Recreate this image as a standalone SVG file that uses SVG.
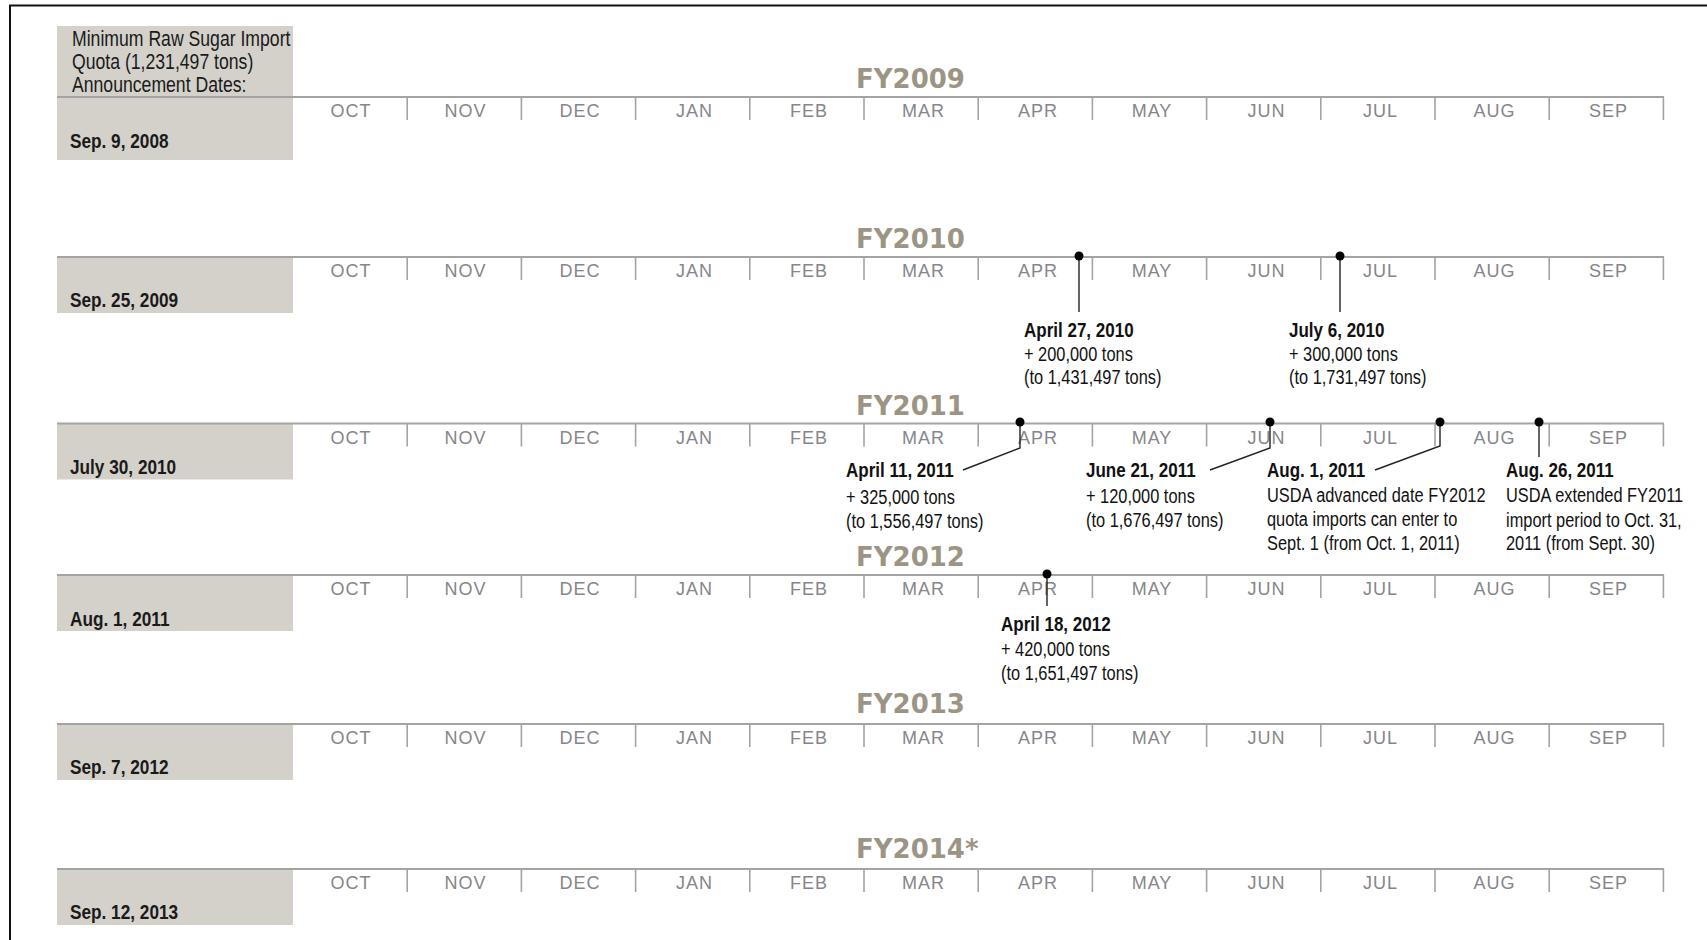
<svg xmlns="http://www.w3.org/2000/svg" width="1707" height="940" viewBox="0 0 1707 940">
<style>
.bg{fill:#ffffff}
.frame{stroke:#111;stroke-width:2;fill:none}
.box{fill:#d4d1ca}
.axis{stroke:#a3a3a3;stroke-width:2;fill:none}
.tick{stroke:#a3a3a3;stroke-width:1.6;fill:none}
.mon{font-family:"Liberation Sans",Arial,sans-serif;font-size:18px;fill:#85868a;text-anchor:middle;letter-spacing:1px}
.fy{font-family:"DejaVu Sans",sans-serif;font-weight:bold;font-size:26px;fill:#9c9584}
.hdr{font-family:"Liberation Sans",Arial,sans-serif;font-size:21.5px;fill:#1a1a1a}
.dt{font-family:"Liberation Sans",Arial,sans-serif;font-size:21px;font-weight:bold;fill:#1a1a1a}
.an{font-family:"Liberation Sans",Arial,sans-serif;font-size:21px;fill:#111}
.anb{font-family:"Liberation Sans",Arial,sans-serif;font-size:21px;font-weight:bold;fill:#111}
.lead{stroke:#222;stroke-width:1.4;fill:none}
.dot{fill:#000}
</style>
<defs>
<g id="months">
<path class="tick" d="M407.2 0V23M521.4 0V23M635.6 0V23M749.8 0V23M864 0V23M978.2 0V23M1092.4 0V23M1206.6 0V23M1320.8 0V23M1435 0V23M1549.2 0V23M1663.4 0V23"/>
<line class="axis" x1="57" y1="0" x2="1664" y2="0"/>
<text class="mon" y="20"><tspan x="351">OCT</tspan><tspan x="465.5">NOV</tspan><tspan x="580">DEC</tspan><tspan x="694.5">JAN</tspan><tspan x="809">FEB</tspan><tspan x="923.5">MAR</tspan><tspan x="1038">APR</tspan><tspan x="1152">MAY</tspan><tspan x="1266.5">JUN</tspan><tspan x="1380.5">JUL</tspan><tspan x="1494.5">AUG</tspan><tspan x="1608.5">SEP</tspan></text>
</g>
</defs>
<rect class="bg" x="0" y="0" width="1707" height="940"/>
<path class="frame" d="M10 945V5.5H1712"/>

<g id="fy2009">
<rect class="box" x="57" y="26" width="236" height="134"/>
<g transform="translate(72 0) scale(0.82 1)">
<text class="hdr" x="0" y="46">Minimum Raw Sugar Import</text>
<text class="hdr" x="0" y="69">Quota (1,231,497 tons)</text>
<text class="hdr" x="0" y="92">Announcement Dates:</text>
</g>
<use href="#months" y="97"/>
<text class="fy" x="856" y="88">FY2009</text>
<text class="dt" transform="translate(70 148) scale(0.82 1)">Sep. 9, 2008</text>
</g>

<g id="fy2010">
<rect class="box" x="57" y="257" width="236" height="56"/>
<use href="#months" y="257"/>
<text class="fy" x="856" y="248">FY2010</text>
<text class="dt" transform="translate(70 307) scale(0.82 1)">Sep. 25, 2009</text>
</g>

<g id="fy2011">
<rect class="box" x="57" y="423.5" width="236" height="56"/>
<use href="#months" y="423.5"/>
<text class="fy" x="856" y="415">FY2011</text>
<text class="dt" transform="translate(70 474) scale(0.82 1)">July 30, 2010</text>
</g>

<g id="fy2012">
<rect class="box" x="57" y="575" width="236" height="56"/>
<use href="#months" y="575"/>
<text class="fy" x="856" y="566">FY2012</text>
<text class="dt" transform="translate(70 626) scale(0.82 1)">Aug. 1, 2011</text>
</g>

<g id="fy2013">
<rect class="box" x="57" y="724" width="236" height="56"/>
<use href="#months" y="724"/>
<text class="fy" x="856" y="713">FY2013</text>
<text class="dt" transform="translate(70 774) scale(0.82 1)">Sep. 7, 2012</text>
</g>

<g id="fy2014">
<rect class="box" x="57" y="869" width="236" height="56"/>
<use href="#months" y="869"/>
<text class="fy" x="856" y="858">FY2014*</text>
<text class="dt" transform="translate(70 919) scale(0.82 1)">Sep. 12, 2013</text>
</g>

<g id="connectors">
<path class="lead" d="M1079 256V312"/>
<path class="lead" d="M1340 256V312"/>
<path class="lead" d="M1020 422V448L963 470"/>
<path class="lead" d="M1270 422V448L1210 470"/>
<path class="lead" d="M1440 422V446L1375 470"/>
<path class="lead" d="M1539 422V457"/>
<path class="lead" d="M1047 574V606"/>
<circle class="dot" cx="1079" cy="256" r="4.5"/>
<circle class="dot" cx="1340" cy="256" r="4.5"/>
<circle class="dot" cx="1020" cy="422" r="4.5"/>
<circle class="dot" cx="1270" cy="422" r="4.5"/>
<circle class="dot" cx="1440" cy="422" r="4.5"/>
<circle class="dot" cx="1539" cy="422" r="4.5"/>
<circle class="dot" cx="1047" cy="574" r="4.5"/>
</g>

<g id="note-apr27-2010">
<text class="anb" transform="translate(1024 337) scale(0.81 1)">April 27, 2010</text>
<g transform="translate(1024 0) scale(0.78 1)">
<text class="an" x="0" y="361">+ 200,000 tons</text>
<text class="an" x="0" y="384">(to 1,431,497 tons)</text>
</g>
</g>
<g id="note-jul6-2010">
<text class="anb" transform="translate(1289 337) scale(0.81 1)">July 6, 2010</text>
<g transform="translate(1289 0) scale(0.78 1)">
<text class="an" x="0" y="361">+ 300,000 tons</text>
<text class="an" x="0" y="384">(to 1,731,497 tons)</text>
</g>
</g>
<g id="note-apr11-2011">
<text class="anb" transform="translate(846 477) scale(0.81 1)">April 11, 2011</text>
<g transform="translate(846 0) scale(0.78 1)">
<text class="an" x="0" y="504">+ 325,000 tons</text>
<text class="an" x="0" y="528">(to 1,556,497 tons)</text>
</g>
</g>
<g id="note-jun21-2011">
<text class="anb" transform="translate(1086 477) scale(0.81 1)">June 21, 2011</text>
<g transform="translate(1086 0) scale(0.78 1)">
<text class="an" x="0" y="503">+ 120,000 tons</text>
<text class="an" x="0" y="527">(to 1,676,497 tons)</text>
</g>
</g>
<g id="note-aug1-2011">
<text class="anb" transform="translate(1267 477) scale(0.81 1)">Aug. 1, 2011</text>
<g transform="translate(1267 0) scale(0.78 1)">
<text class="an" x="0" y="502">USDA advanced date FY2012</text>
<text class="an" x="0" y="526">quota imports can enter to</text>
<text class="an" x="0" y="550">Sept. 1 (from Oct. 1, 2011)</text>
</g>
</g>
<g id="note-aug26-2011">
<text class="anb" transform="translate(1506 477) scale(0.81 1)">Aug. 26, 2011</text>
<g transform="translate(1506 0) scale(0.78 1)">
<text class="an" x="0" y="502">USDA extended FY2011</text>
<text class="an" x="0" y="527">import period to Oct. 31,</text>
<text class="an" x="0" y="550">2011 (from Sept. 30)</text>
</g>
</g>
<g id="note-apr18-2012">
<text class="anb" transform="translate(1001 631) scale(0.81 1)">April 18, 2012</text>
<g transform="translate(1001 0) scale(0.78 1)">
<text class="an" x="0" y="656">+ 420,000 tons</text>
<text class="an" x="0" y="680">(to 1,651,497 tons)</text>
</g>
</g>
</svg>
